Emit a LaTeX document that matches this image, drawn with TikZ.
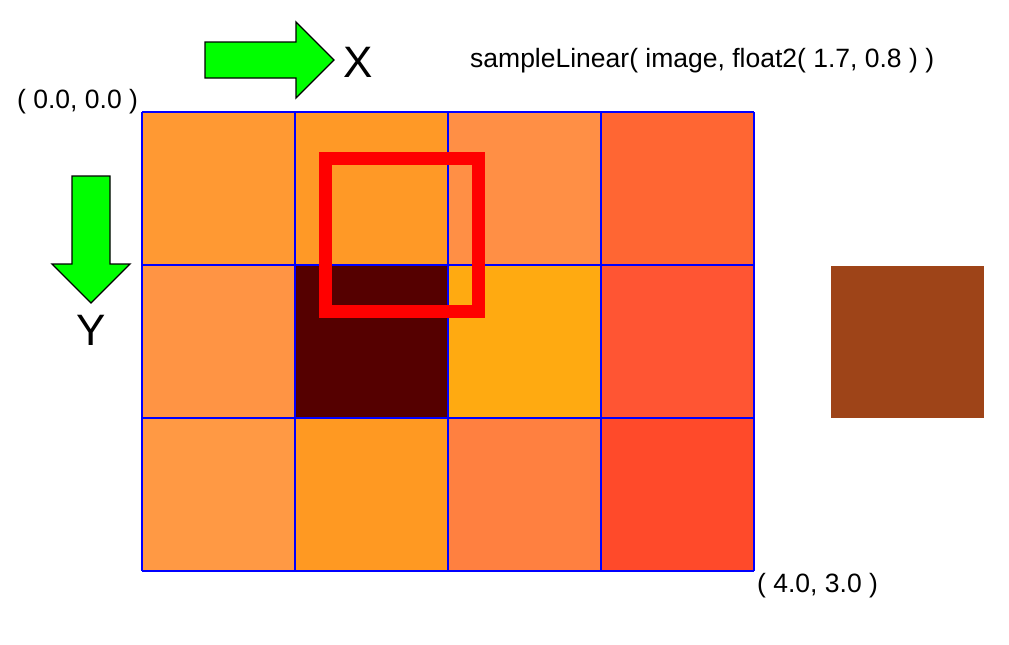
\documentclass[tikz,border=0pt]{standalone}
\usepackage{fontspec}
\setmainfont{Liberation Sans}
\definecolor{c00}{RGB}{255,153,51}
\definecolor{c10}{RGB}{255,153,38}
\definecolor{c20}{RGB}{255,143,69}
\definecolor{c30}{RGB}{255,102,51}
\definecolor{c01}{RGB}{255,148,68}
\definecolor{c11}{RGB}{85,0,0}
\definecolor{c21}{RGB}{255,170,17}
\definecolor{c31}{RGB}{255,85,51}
\definecolor{c02}{RGB}{255,153,68}
\definecolor{c12}{RGB}{255,153,34}
\definecolor{c22}{RGB}{255,128,64}
\definecolor{c32}{RGB}{255,74,42}
\definecolor{brownres}{RGB}{158,68,24}
\definecolor{arrowgreen}{RGB}{0,255,0}
\definecolor{gridblue}{RGB}{0,0,255}
\tikzset{
  bigarrow/.style={draw=black, fill=arrowgreen, line width=1.3pt, line join=miter},
  coordlabel/.style={font=\fontsize{26.5}{30}\selectfont, inner sep=0pt},
  axislabel/.style={font=\fontsize{44}{48}\selectfont, inner sep=0pt},
}
\begin{document}
\begin{tikzpicture}[x=1pt,y=-1pt]
\useasboundingbox (0,0) rectangle (1009,645);
% cells
\foreach \c/\i/\j in {c00/0/0,c10/1/0,c20/2/0,c30/3/0,c01/0/1,c11/1/1,c21/2/1,c31/3/1,c02/0/2,c12/1/2,c22/2/2,c32/3/2}{
  \fill[\c] ({142+153*\i},{112+153*\j}) rectangle ++(153,153);
}
\foreach \i in {0,...,4}{\draw[gridblue, line width=2pt] ({142+153*\i},112) -- ({142+153*\i},571);}
\foreach \j in {0,...,3}{\draw[gridblue, line width=2pt] (142,{112+153*\j}) -- (754,{112+153*\j});}
% sample footprint
\draw[red, line width=13pt, line join=miter] (325.5,158.5) rectangle (478.5,311.5);
% result
\fill[brownres] (831,266) rectangle (984,418);
% X arrow
\draw[bigarrow] (205,42) -- (296,42) -- (296,22) -- (334,60) -- (296,98) -- (296,78) -- (205,78) -- cycle;
\node[axislabel] (xl) at (358,62) {X};
% Y arrow
\draw[bigarrow] (72,176) -- (110,176) -- (110,264) -- (130,264) -- (91,303) -- (52,264) -- (72,264) -- cycle;
\node[axislabel] (yl) at (91,330) {Y};
% labels
\node[coordlabel, anchor=west] (tl) at (17,102) {( 0.0, 0.0 )};
\node[coordlabel, anchor=west] (br) at (757,586) {( 4.0, 3.0 )};
\node[coordlabel, anchor=west] (title) at (470,61) {sampleLinear( image, float2( 1.7, 0.8 ) )};
\end{tikzpicture}
\end{document}
